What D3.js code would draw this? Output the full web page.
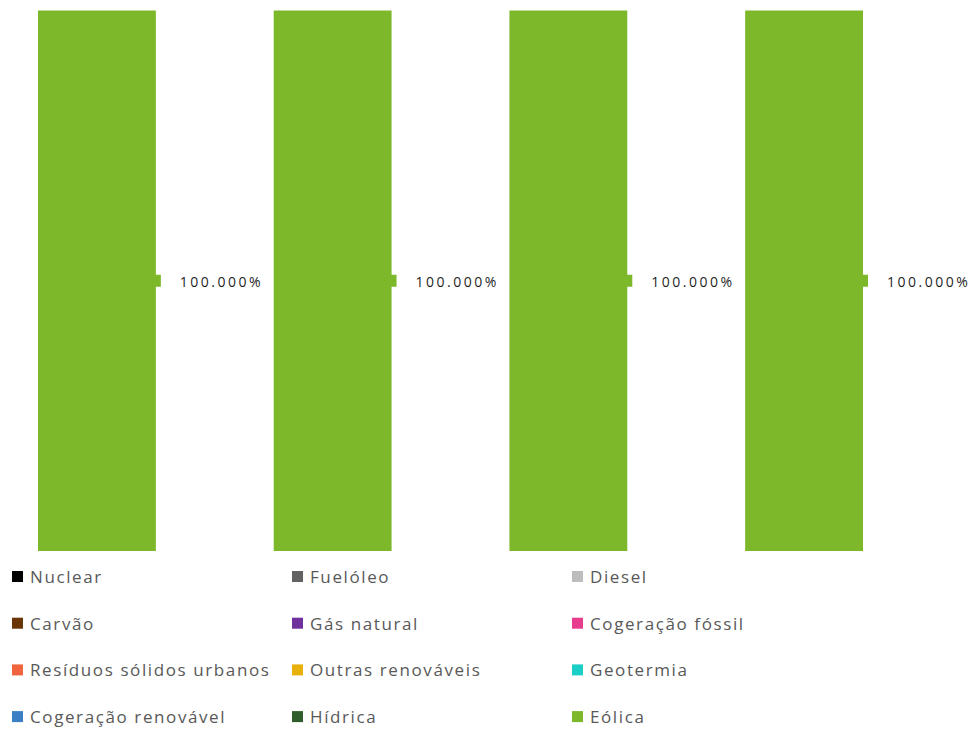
<!DOCTYPE html>
<html>
<head>
<meta charset="utf-8">
<script src="https://cdn.jsdelivr.net/npm/d3@7/dist/d3.min.js"></script>
<style>
  html, body { margin: 0; padding: 0; background: #fff; }
  svg { display: block; }
</style>
</head>
<body>
<svg id="chart" width="974" height="731"></svg>
<script>
// ---- data ----
const categories = ["A", "B", "C", "D"];
const seriesNames = ["Nuclear", "Fuelóleo", "Diesel", "Carvão", "Gás natural", "Cogeração fóssil",
  "Resíduos sólidos urbanos", "Outras renováveis", "Geotermia", "Cogeração renovável", "Hídrica", "Eólica"];
const seriesColors = ["#000000", "#626262", "#bdbdbd", "#6a3506", "#6f2f9c", "#e83d8e",
  "#f0653d", "#e8b00a", "#1ccfc6", "#3a7ec3", "#2f5d2b", "#7db82b"];
const nuclear = [0, 0, 0, 0];
const fueloleo = [0, 0, 0, 0];
const diesel = [0, 0, 0, 0];
const carvao = [0, 0, 0, 0];
const gasNatural = [0, 0, 0, 0];
const cogeracaoFossil = [0, 0, 0, 0];
const residuos = [0, 0, 0, 0];
const outrasRenovaveis = [0, 0, 0, 0];
const geotermia = [0, 0, 0, 0];
const cogeracaoRenovavel = [0, 0, 0, 0];
const hidrica = [0, 0, 0, 0];
const eolica = [1, 1, 1, 1];
const seriesValues = [nuclear, fueloleo, diesel, carvao, gasNatural, cogeracaoFossil,
  residuos, outrasRenovaveis, geotermia, cogeracaoRenovavel, hidrica, eolica];

// ---- build table ----
const table = categories.map((c, i) => {
  const row = { cat: c };
  seriesNames.forEach((s, j) => row[s] = seriesValues[j][i]);
  return row;
});
const stacked = d3.stack().keys(seriesNames)(table);

const svg = d3.select("#chart");
const x = d3.scaleBand().domain(categories).range([38, 863]).paddingInner(0.5).paddingOuter(0);
const y = d3.scaleLinear().domain([0, 1]).range([551, 10.5]);
const color = d3.scaleOrdinal().domain(seriesNames).range(seriesColors);

const layers = svg.append("g").selectAll("g").data(stacked).join("g")
  .attr("fill", d => color(d.key));
layers.selectAll("rect").data(d => d).join("rect")
  .attr("x", d => x(d.data.cat))
  .attr("y", d => y(d[1]))
  .attr("width", x.bandwidth())
  .attr("height", d => y(d[0]) - y(d[1]));

// data labels for non-zero segments
const fmt = d3.format(".3%");
const labelData = [];
stacked.forEach(layer => layer.forEach(d => {
  const v = d[1] - d[0];
  if (v > 0) labelData.push({ key: layer.key, cat: d.data.cat, v, mid: (d[0] + d[1]) / 2 });
}));
const lab = svg.append("g").selectAll("g").data(labelData).join("g");
lab.append("rect")
  .attr("x", d => x(d.cat) + x.bandwidth() - 1)
  .attr("y", d => y(d.mid) - 6)
  .attr("width", 6)
  .attr("height", 12)
  .attr("fill", d => color(d.key));
lab.append("text")
  .attr("x", d => x(d.cat) + x.bandwidth() + 24)
  .attr("y", d => y(d.mid) + 6)
  .attr("font-family", "'Open Sans', sans-serif")
  .attr("font-size", 14)
  .attr("letter-spacing", "2.5px")
  .attr("fill", "#1f1f1f")
  .text(d => fmt(d.v));

// legend
const legend = svg.append("g").selectAll("g").data(seriesNames).join("g")
  .attr("transform", (d, i) => `translate(${12 + (i % 3) * 280}, ${577 + Math.floor(i / 3) * 46.7})`);
legend.append("rect")
  .attr("x", 0).attr("y", -6).attr("width", 11).attr("height", 11)
  .attr("fill", d => color(d));
legend.append("text")
  .attr("x", 18).attr("y", 6)
  .attr("font-family", "'Open Sans', sans-serif")
  .attr("font-size", 17)
  .attr("letter-spacing", "1.6px")
  .attr("fill", "#595959")
  .text(d => d);
</script>
</body>
</html>
